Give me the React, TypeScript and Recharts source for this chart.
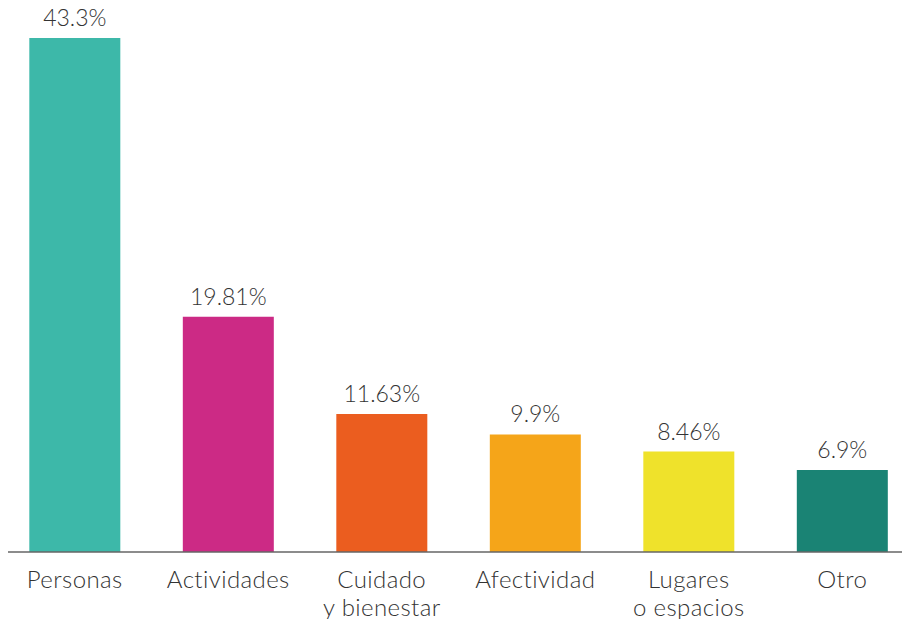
import { BarChart, Bar, XAxis, YAxis, Cell, LabelList } from "recharts";

const categories = [
  ["Personas"],
  ["Actividades"],
  ["Cuidado", "y bienestar"],
  ["Afectividad"],
  ["Lugares", "o espacios"],
  ["Otro"],
];
const values = [43.3, 19.81, 11.63, 9.9, 8.46, 6.9];
const colors = ["#3db8a9", "#cc2a85", "#eb5d1f", "#f5a519", "#efe22b", "#1a8374"];

const data = categories.map((lines, i) => ({
  name: lines.join("\n"),
  value: values[i],
}));

const FONT = "Lato, 'Open Sans', sans-serif";

function CategoryTick(props: any) {
  const { x, y, payload } = props;
  const lines = String(payload.value).split("\n");
  return (
    <text
      x={x}
      y={y}
      textAnchor="middle"
      fill="#333"
      fontFamily={FONT}
      fontWeight={300}
      fontSize={24}
      letterSpacing={0.4}
    >
      {lines.map((line, i) => (
        <tspan key={i} x={x} dy={i === 0 ? 34 : 28}>
          {line}
        </tspan>
      ))}
    </text>
  );
}

export default function App() {
  return (
    <div style={{ position: "absolute", left: 0, top: 0 }}>
      <BarChart
        width={902}
        height={619}
        data={data}
        margin={{ top: 0, right: 0, bottom: 37, left: 8 }}
        barCategoryGap="20.4%"
      >
        <XAxis
          dataKey="name"
          interval={0}
          height={30}
          tickLine={false}
          tickSize={0}
          padding={{ left: -10, right: -17 }}
          axisLine={{ stroke: "#666", strokeWidth: 1.5 }}
          tick={<CategoryTick />}
        />
        <YAxis hide domain={[0, 46.5]} />
        <Bar dataKey="value" isAnimationActive={false}>
          {data.map((d, i) => (
            <Cell key={d.name} fill={colors[i]} />
          ))}
          <LabelList
            dataKey="value"
            position="top"
            offset={12}
            formatter={(v: any) => `${v}%`}
            fill="#333"
            fontFamily={FONT}
            fontWeight={300}
            fontSize={23}
          />
        </Bar>
      </BarChart>
    </div>
  );
}
